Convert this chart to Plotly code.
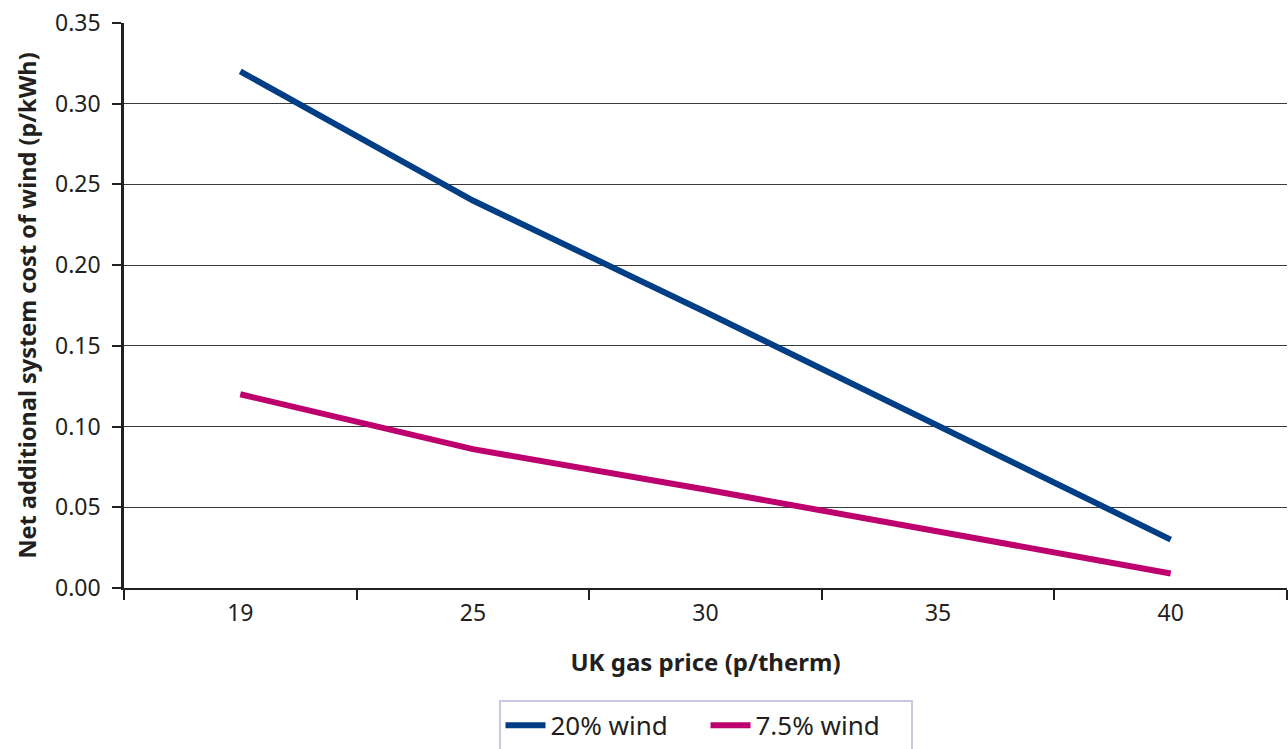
import plotly.graph_objects as go

gas_price = ["19", "25", "30", "35", "40"]
wind_20 = [0.32, 0.24, 0.171, 0.101, 0.030]
wind_7_5 = [0.120, 0.086, 0.061, 0.035, 0.009]
y_ticks = [0.00, 0.05, 0.10, 0.15, 0.20, 0.25, 0.30, 0.35]

FONT = "Noto Sans"
TXT = "#231f20"

fig = go.Figure()
fig.add_trace(go.Scatter(x=gas_price, y=wind_20, mode="lines", name="20% wind",
                         line=dict(color="#003e85", width=6)))
fig.add_trace(go.Scatter(x=gas_price, y=wind_7_5, mode="lines", name="7.5% wind",
                         line=dict(color="#bd006e", width=6)))

fig.update_layout(
    width=1288, height=749,
    margin=dict(l=124, r=1, t=23, b=161, autoexpand=False),
    paper_bgcolor="white", plot_bgcolor="white",
    font=dict(family=FONT, color=TXT, size=23),
    showlegend=True,
    legend=dict(orientation="h", x=0.5, xanchor="center", y=-0.198, yanchor="top",
                bordercolor="#c9c9e3", borderwidth=2, font=dict(size=26, family=FONT, color=TXT),
                itemwidth=40, entrywidth=150, tracegroupgap=0),
    xaxis=dict(type="category", range=[-0.5, 4.5], tickson="boundaries", automargin=False,
               showgrid=False, showline=True, linecolor="#231f20", linewidth=2,
               ticks="outside", ticklen=10, tickcolor="#231f20", tickwidth=1.5,
               ticklabelstandoff=3,
               tickfont=dict(size=23, family=FONT, color=TXT),
               title=dict(text="<b>UK gas price (p/therm)</b>", font=dict(size=24, family=FONT, color=TXT),
                          standoff=28)),
    yaxis=dict(range=[0, 0.35], tickmode="array", tickvals=y_ticks, automargin=False,
               ticktext=[f"{v:.2f}" for v in y_ticks],
               ticklabeloverflow="allow",
               showgrid=True, gridcolor="#3a3a3a", gridwidth=1,
               showline=True, linecolor="#231f20", linewidth=2.5,
               ticks="outside", ticklen=9, tickcolor="#231f20", tickwidth=1.5,
               ticklabelstandoff=7,
               zeroline=False,
               tickfont=dict(size=23, family=FONT, color=TXT),
               title=dict(text="<b>Net additional system cost of wind (p/kWh)</b>",
                          font=dict(size=23.5, family=FONT, color=TXT), standoff=12)),
)

fig.write_html("out.html", config={"displayModeBar": False},
               post_script="document.body.style.margin='0';document.body.style.overflow='hidden';")
